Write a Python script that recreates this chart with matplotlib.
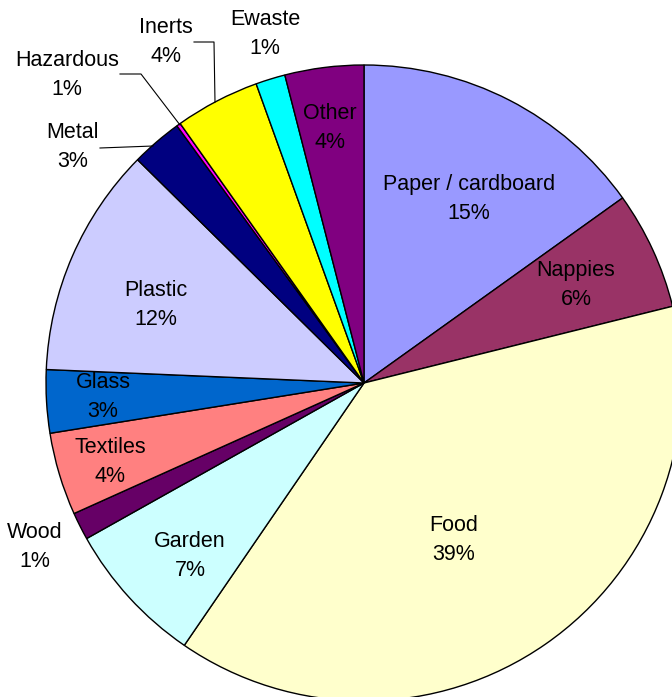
import matplotlib
matplotlib.use("Agg")
import matplotlib.pyplot as plt

categories = ["Paper / cardboard", "Nappies", "Food", "Garden", "Wood", "Textiles",
              "Glass", "Plastic", "Metal", "Hazardous", "Inerts", "Ewaste", "Other"]
values = [15.1, 6.0, 38.4, 7.3, 1.4, 4.2, 3.2, 11.7, 2.6, 0.2, 4.3, 1.5, 4.0]
pct_labels = ["15%", "6%", "39%", "7%", "1%", "4%", "3%", "12%", "3%", "1%", "4%", "1%", "4%"]
colors = ["#9999FF", "#993366", "#FFFFCC", "#CCFFFF", "#660066", "#FF8080",
          "#0066CC", "#CCCCFF", "#000080", "#FF00FF", "#FFFF00", "#00FFFF", "#800080"]

# label anchor positions in pixels (x, y from top)
label_px = [(469, 199), (576, 285), (454, 540), (190, 556), (35, 547), (110, 462),
            (103, 397), (156, 305), (73, 147), (67, 75), (166, 42), (265, 34), (330, 128)]

W, H = 672, 697
CX, CY, R = 364, 383, 318

def px(x, y):
    return ((x - CX) / R, (CY - y) / R)

plt.rcParams['font.family'] = ['Liberation Sans', 'DejaVu Sans']
fig = plt.figure(figsize=(W / 100, H / 100), dpi=100)
ax = fig.add_axes([0, 0, 1, 1])
ax.pie(values, colors=colors, startangle=90, counterclock=False, radius=1,
       center=(0, 0), wedgeprops=dict(edgecolor="black", linewidth=1.0))
ax.set_xlim(-CX / R, (W - CX) / R)
ax.set_ylim((CY - H) / R, CY / R)
ax.set_aspect("equal")
ax.axis("off")

for name, pct, (x, y) in zip(categories, pct_labels, label_px):
    tx, ty = px(x, y)
    ax.text(tx, ty, f"{name}\n{pct}", ha="center", va="center", fontsize=15.5,
            linespacing=1.45, color="black")

# leader lines
leaders = [
    [(100, 148), (153, 146)],             # Metal
    [(120, 74), (141, 74), (180, 125)],   # Hazardous
    [(194, 42), (214, 42), (215, 102)],   # Inerts
]
for pts in leaders:
    xs, ys = zip(*[px(a, b) for a, b in pts])
    ax.plot(xs, ys, color="black", linewidth=0.8)

fig.savefig("out.png", dpi=100)
